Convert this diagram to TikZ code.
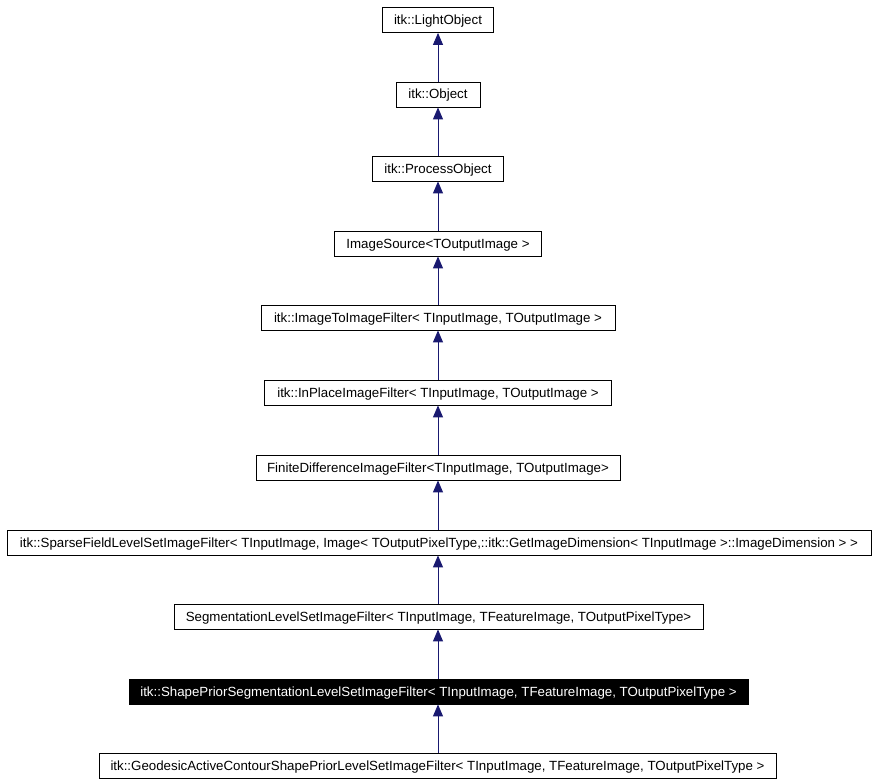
\documentclass[tikz,border=0pt]{standalone}
\usepackage{fontspec}
\setmainfont{Liberation Sans}
\usetikzlibrary{arrows.meta}
\definecolor{edgeblue}{HTML}{191970}
\tikzset{
  cls/.style={draw=black, line width=0.8pt, fill=white, minimum height=25pt, inner sep=0pt, text height=10pt, text depth=1pt, font=\fontsize{13.3}{15}\selectfont, anchor=center},
  sel/.style={cls, fill=black, text=white},
  inh/.style={draw=edgeblue, line width=0.9pt, -{Triangle[length=12pt,width=10pt]}}
}
\begin{document}
\begin{tikzpicture}[x=1pt,y=-1pt]
\useasboundingbox (0,0) rectangle (875,784);
\node[cls, minimum width=111pt] (n1) at (438,20) {itk::LightObject};
\node[cls, minimum width=84pt] (n2) at (438,94.5) {itk::Object};
\node[cls, minimum width=131pt] (n3) at (438,168.5) {itk::ProcessObject};
\node[cls, minimum width=207pt] (n4) at (438,243.5) {ImageSource<TOutputImage >};
\node[cls, minimum width=354pt] (n5) at (438,317.5) {itk::ImageToImageFilter< TInputImage, TOutputImage >};
\node[cls, minimum width=347pt] (n6) at (438,392.5) {itk::InPlaceImageFilter< TInputImage, TOutputImage >};
\node[cls, minimum width=364pt] (n7) at (438,467.5) {FiniteDifferenceImageFilter<TInputImage, TOutputImage>};
\node[cls, minimum width=864pt] (n8) at (439,542.5) {itk::SparseFieldLevelSetImageFilter< TInputImage, Image< TOutputPixelType,::itk::GetImageDimension< TInputImage >::ImageDimension > >};
\node[cls, minimum width=529pt] (n9) at (438.5,616.5) {SegmentationLevelSetImageFilter< TInputImage, TFeatureImage, TOutputPixelType>};
\node[sel, minimum width=619pt] (n10) at (438.5,691.5) {itk::ShapePriorSegmentationLevelSetImageFilter< TInputImage, TFeatureImage, TOutputPixelType >};
\node[cls, minimum width=677pt] (n11) at (437.5,765.5) {itk::GeodesicActiveContourShapePriorLevelSetImageFilter< TInputImage, TFeatureImage, TOutputPixelType >};
\draw[inh] (n2.north -| 438,0) -- (n1.south -| 438,0);
\draw[inh] (n3.north -| 438,0) -- (n2.south -| 438,0);
\draw[inh] (n4.north -| 438,0) -- (n3.south -| 438,0);
\draw[inh] (n5.north -| 438,0) -- (n4.south -| 438,0);
\draw[inh] (n6.north -| 438,0) -- (n5.south -| 438,0);
\draw[inh] (n7.north -| 438,0) -- (n6.south -| 438,0);
\draw[inh] (n8.north -| 438,0) -- (n7.south -| 438,0);
\draw[inh] (n9.north -| 438,0) -- (n8.south -| 438,0);
\draw[inh] (n10.north -| 438,0) -- (n9.south -| 438,0);
\draw[inh] (n11.north -| 438,0) -- (n10.south -| 438,0);
\end{tikzpicture}
\end{document}
